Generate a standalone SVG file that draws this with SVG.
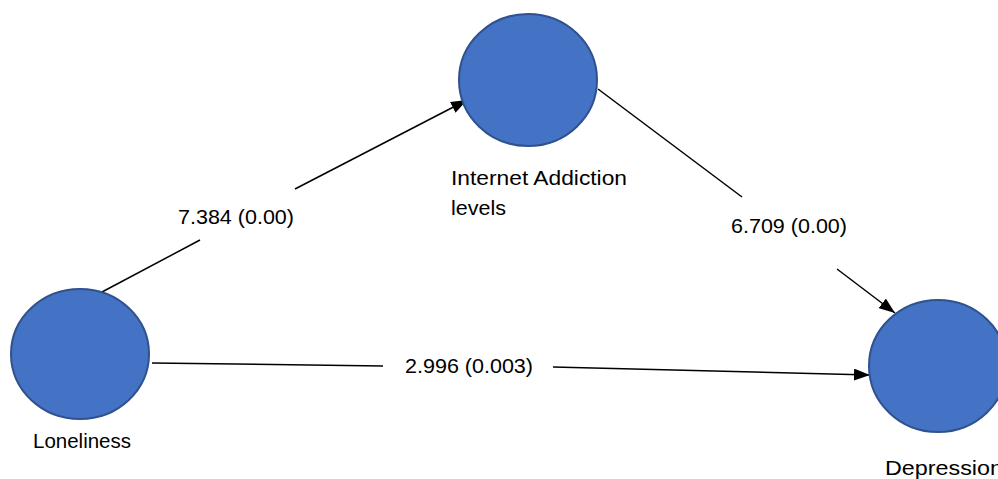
<svg xmlns="http://www.w3.org/2000/svg" width="998" height="479" viewBox="0 0 998 479">
<style>
.node{fill:#4472C4;stroke:#2F528F;stroke-width:2}
.edge{stroke:#000;stroke-width:1.5;fill:none}
text{font-family:"Liberation Sans",Arial,sans-serif;font-size:20.5px;fill:#000}
</style>
<defs>
<marker id="arr" viewBox="0 0 16 12" refX="16" refY="6" markerWidth="16" markerHeight="12" markerUnits="userSpaceOnUse" orient="auto">
<path d="M0,0 L16,6 L0,12 z" fill="#000"/>
</marker>
</defs>
<rect width="998" height="479" fill="#fff"/>
<g id="connectors">
<line class="edge" x1="102" y1="292" x2="200" y2="240"/>
<line class="edge" x1="295" y1="189" x2="467" y2="100" marker-end="url(#arr)"/>
<line class="edge" x1="598" y1="89" x2="742" y2="197"/>
<line class="edge" x1="837" y1="269" x2="895" y2="313" marker-end="url(#arr)"/>
<line class="edge" x1="152" y1="363" x2="383" y2="366"/>
<line class="edge" x1="553" y1="367" x2="870" y2="375" marker-end="url(#arr)"/>
<text x="178" y="224" textLength="116" lengthAdjust="spacingAndGlyphs">7.384 (0.00)</text>
<text x="731" y="233" textLength="116" lengthAdjust="spacingAndGlyphs">6.709 (0.00)</text>
<text x="405" y="373" textLength="128" lengthAdjust="spacingAndGlyphs">2.996 (0.003)</text>
</g>
<g id="internet">
<ellipse class="node" cx="528" cy="80" rx="69" ry="66"/>
<text x="451" y="185" textLength="176" lengthAdjust="spacingAndGlyphs">Internet Addiction</text>
<text x="451" y="215" textLength="55" lengthAdjust="spacingAndGlyphs">levels</text>
</g>
<g id="loneliness">
<ellipse class="node" cx="80" cy="354" rx="69" ry="65"/>
<text x="33" y="448" textLength="98" lengthAdjust="spacingAndGlyphs">Loneliness</text>
</g>
<g id="depression">
<ellipse class="node" cx="938" cy="366" rx="69" ry="66"/>
<text x="885" y="475" textLength="118" lengthAdjust="spacingAndGlyphs">Depression</text>
</g>
</svg>
